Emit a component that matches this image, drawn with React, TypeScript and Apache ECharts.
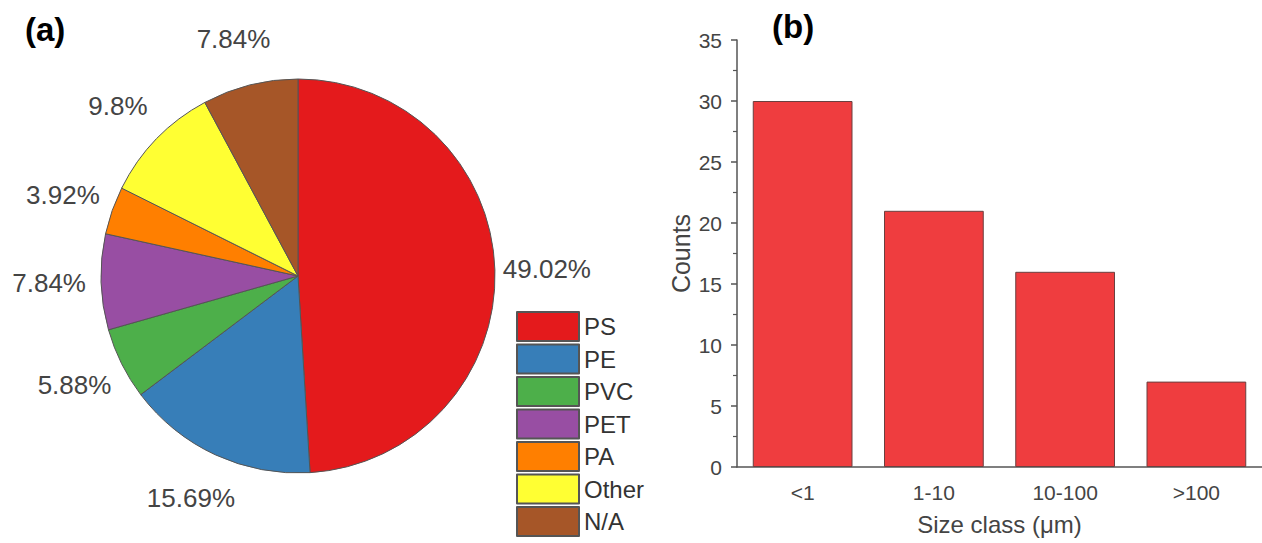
import React, { useEffect, useRef } from "react";
import * as echarts from "echarts";

const polymerNames = ["PS", "PE", "PVC", "PET", "PA", "Other", "N/A"];
const polymerPercents = [49.02, 15.69, 5.88, 7.84, 3.92, 9.8, 7.84];
const polymerColors = ["#e41a1c", "#377eb8", "#4daf4a", "#984ea3", "#ff7f00", "#ffff33", "#a65628"];

const sizeClasses = ["<1", "1-10", "10-100", ">100"];
const sizeCounts = [30, 21, 16, 7];

const FONT = "Liberation Sans, Arial, sans-serif";

export default function App() {
  const ref = useRef<HTMLDivElement>(null);
  useEffect(() => {
    if (!ref.current) return;
    const chart = echarts.init(ref.current, undefined, { renderer: "svg" });
    chart.setOption({
      animation: false,
      textStyle: { fontFamily: FONT },
      title: [
        { text: "(a)", left: 25, top: 13, padding: 0, textStyle: { fontSize: 33, fontWeight: "bold", color: "#000", fontFamily: FONT } },
        { text: "(b)", left: 772, top: 10, padding: 0, textStyle: { fontSize: 33, fontWeight: "bold", color: "#000", fontFamily: FONT } },
      ],
      legend: {
        orient: "vertical",
        left: 516,
        top: 311,
        padding: 0,
        itemWidth: 62,
        itemHeight: 29,
        itemGap: 1.5,
        icon: "rect",
        selectedMode: false,
        textStyle: { fontSize: 24, lineHeight: 29, color: "#333" },
        data: polymerNames,
      },
      grid: { left: 737, top: 40, width: 534, height: 427, containLabel: false },
      xAxis: [
        {
          type: "category",
          data: sizeClasses,
          position: "bottom",
          name: "Size class (μm)",
          nameLocation: "middle",
          nameGap: 45,
          nameTextStyle: { fontSize: 24, color: "#444" },
          axisLine: { lineStyle: { color: "#555", width: 1.5 } },
          axisTick: { alignWithLabel: true, length: 7, lineStyle: { color: "#555", width: 1.5 } },
          axisLabel: { fontSize: 21, color: "#444", margin: 15 },
        },
        {
          type: "category",
          data: sizeClasses,
          position: "bottom",
          axisLine: { show: false },
          axisTick: { alignWithLabel: false, length: 4, lineStyle: { color: "#555", width: 1.2 } },
          axisLabel: { show: false },
        },
      ],
      yAxis: {
        type: "value",
        min: 0,
        max: 35,
        interval: 5,
        name: "Counts",
        nameLocation: "middle",
        nameGap: 44,
        nameTextStyle: { fontSize: 25, color: "#444" },
        axisLine: { show: true, lineStyle: { color: "#555", width: 1.5 } },
        axisTick: { show: true, length: 6, lineStyle: { color: "#555", width: 1.5 } },
        minorTick: { show: true, splitNumber: 2, length: 4, lineStyle: { color: "#555", width: 1.2 } },
        splitLine: { show: false },
        axisLabel: { fontSize: 21, color: "#444", margin: 15 },
      },
      series: [
        {
          type: "pie",
          center: [298, 276],
          radius: 197,
          startAngle: 90,
          clockwise: true,
          avoidLabelOverlap: false,
          data: polymerNames.map((n, i) => ({
            name: n,
            value: polymerPercents[i],
            itemStyle: { color: polymerColors[i] },
          })),
          itemStyle: { borderColor: "#555", borderWidth: 1 },
          label: {
            show: true,
            position: "outside",
            formatter: "{c}%",
            fontSize: 26,
            color: "#444",
          },
          labelLine: { show: false, length: 47, length2: 0 },
          labelLayout: { align: "center", verticalAlign: "middle" },
          emphasis: { disabled: true },
        },
        {
          type: "bar",
          xAxisIndex: 0,
          data: sizeCounts,
          barWidth: "76%",
          itemStyle: { color: "#ef3d3f", borderColor: "#6a4040", borderWidth: 1 },
          emphasis: { disabled: true },
        },
      ],
    });
    return () => chart.dispose();
  }, []);
  return (
    <div style={{ position: "absolute", left: 0, top: 0, width: 1262, height: 543, overflow: "hidden" }}>
      <div ref={ref} style={{ width: 1262, height: 600 }} />
    </div>
  );
}
